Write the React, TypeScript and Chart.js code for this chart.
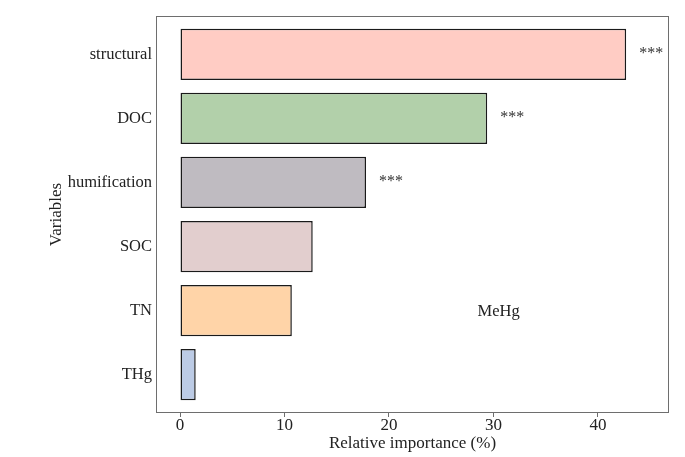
import React, { useEffect, useRef } from "react";
import { Chart, registerables } from "chart.js";
Chart.register(...registerables);

const categories = ["structural", "DOC", "humification", "SOC", "TN", "THg"];
const importance = [42.7, 29.4, 17.8, 12.7, 10.7, 1.5];
const significance = ["***", "***", "***", "", "", ""];
const barColors = ["#FFCCC4", "#B2D0AA", "#BFBBC1", "#E2CECE", "#FFD4A8", "#BCCBE5"];
const xTicks = [0, 10, 20, 30, 40];
const responseLabel = "MeHg";

const FONT = "'Liberation Serif', 'Times New Roman', serif";

export default function App() {
  const ref = useRef<HTMLCanvasElement | null>(null);
  useEffect(() => {
    document.body.style.margin = "0";
    const ctx = ref.current!;
    const framePlugin = {
      id: "frame",
      afterDraw(chart: any) {
        const { ctx, chartArea } = chart;
        ctx.save();
        ctx.strokeStyle = "#6e6e6e";
        ctx.lineWidth = 1;
        ctx.strokeRect(chartArea.left + 0.5, chartArea.top + 0.5, chartArea.right - chartArea.left - 1, chartArea.bottom - chartArea.top - 1);
        const meta = chart.getDatasetMeta(0);
        ctx.fillStyle = "#333";
        ctx.font = `16px ${FONT}`;
        ctx.textAlign = "left";
        ctx.textBaseline = "middle";
        meta.data.forEach((bar: any, i: number) => {
          if (significance[i]) ctx.fillText(significance[i], bar.x + 13, bar.y - 1);
        });
        const xs = chart.scales.x;
        const ys = chart.scales.y;
        ctx.fillStyle = "#222";
        ctx.font = `16.5px ${FONT}`;
        ctx.textAlign = "center";
        ctx.fillText(responseLabel, xs.getPixelForValue(30.5), ys.getPixelForValue(4.02));
        ctx.restore();
      },
    };
    const chart = new Chart(ctx, {
      type: "bar",
      data: {
        datasets: [
          {
            data: importance.map((v, i) => ({ x: v, y: i })),
            backgroundColor: barColors,
            borderColor: "#1a1a1a",
            borderWidth: 1.5,
            borderSkipped: false,
            barPercentage: 0.8,
            categoryPercentage: 1,
          },
        ],
      },
      options: {
        indexAxis: "y",
        animation: false,
        responsive: false,
        maintainAspectRatio: false,
        layout: { padding: { left: 40, right: 16, top: 16, bottom: 3 } },
        plugins: { legend: { display: false }, tooltip: { enabled: false } },
        scales: {
          x: {
            type: "linear",
            min: -2.3,
            max: 46.8,
            afterBuildTicks(scale: any) {
              scale.ticks = xTicks.map((v) => ({ value: v }));
            },
            afterFit(scale: any) {
              scale.height = 41;
            },
            grid: { drawOnChartArea: false, drawTicks: true, tickLength: 4, color: "#6e6e6e" },
            border: { display: false },
            ticks: { color: "#222", font: { family: FONT, size: 17 }, padding: -2, maxRotation: 0 },
            title: { display: true, text: "Relative importance (%)", color: "#222", font: { family: FONT, size: 17 }, padding: { top: 0, bottom: 0 } },
          },
          y: {
            type: "linear",
            reverse: true,
            offset: false,
            min: -0.6,
            max: 5.6,
            afterBuildTicks(scale: any) {
              scale.ticks = categories.map((_, i) => ({ value: i }));
            },
            afterFit(scale: any) {
              scale.width = 116;
            },
            grid: { display: false, drawTicks: false, offset: false },
            border: { display: false },
            ticks: {
              color: "#222",
              font: { family: FONT, size: 16.5 },
              padding: 4,
              callback: (v: any) => categories[v as number] ?? "",
            },
            title: { display: true, text: "Variables", color: "#222", font: { family: FONT, size: 17 }, padding: { top: 6, bottom: 0 } },
          },
        },
      },
      plugins: [framePlugin],
    } as any);
    return () => chart.destroy();
  }, []);
  return (
    <div style={{ position: "fixed", left: 0, top: 0, width: 685, height: 457, background: "#fff" }}>
      <canvas ref={ref} width={685} height={457} style={{ width: 685, height: 457 }} />
    </div>
  );
}
